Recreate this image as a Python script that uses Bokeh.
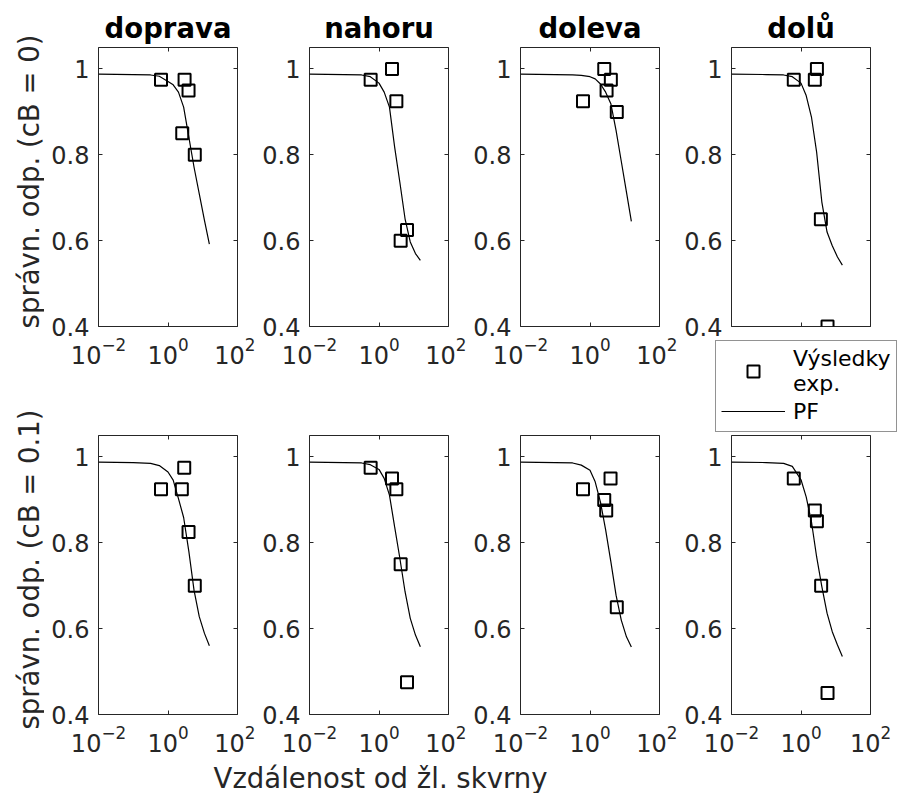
import math
from bokeh.plotting import figure
from bokeh.models import (Range1d, LogAxis, LinearAxis, FixedTicker, LogTickFormatter,
                          NumeralTickFormatter, Legend, LegendItem, Label)
from bokeh.layouts import column, row
from bokeh.embed import file_html
from bokeh.resources import INLINE

FONT = "DejaVu Sans"
AX = "#262626"

# ---------------- data ----------------
titles = ["doprava", "nahoru", "doleva", "dolů"]
row_labels = ["správn. odp. (cB = 0)", "správn. odp. (cB = 0.1)"]
x_label = "Vzdálenost od žl. skvrny"
legend_labels = ["Výsledky\nexp.", "PF"]
x_ticks = [0.01, 1, 100]
y_ticks = [0.4, 0.6, 0.8, 1.0]

# psychometric-function curves, shared x samples
pf_x = [0.01, 0.1, 0.316, 0.562, 1.0, 1.41, 2.0, 2.82, 3.98, 5.62, 7.94, 11.2, 15.5]

pf_doprava_0 = [0.988, 0.987, 0.986, 0.983, 0.971, 0.963, 0.946, 0.911, 0.841, 0.771, 0.709, 0.647, 0.592]
pf_nahoru_0 = [0.988, 0.987, 0.986, 0.982, 0.967, 0.946, 0.911, 0.818, 0.736, 0.651, 0.597, 0.570, 0.554]
pf_doleva_0 = [0.988, 0.987, 0.986, 0.985, 0.982, 0.977, 0.965, 0.946, 0.919, 0.857, 0.785, 0.713, 0.645]
pf_dolu_0 = [0.988, 0.987, 0.986, 0.982, 0.967, 0.938, 0.888, 0.806, 0.690, 0.620, 0.588, 0.562, 0.543]

pf_doprava_1 = [0.988, 0.987, 0.985, 0.980, 0.965, 0.946, 0.903, 0.859, 0.780, 0.689, 0.628, 0.589, 0.560]
pf_nahoru_1 = [0.988, 0.987, 0.986, 0.982, 0.971, 0.950, 0.911, 0.837, 0.764, 0.686, 0.624, 0.585, 0.558]
pf_doleva_1 = [0.988, 0.987, 0.986, 0.981, 0.969, 0.942, 0.895, 0.830, 0.756, 0.678, 0.620, 0.581, 0.557]
pf_dolu_1 = [0.988, 0.987, 0.985, 0.978, 0.947, 0.907, 0.849, 0.767, 0.698, 0.636, 0.593, 0.562, 0.535]

# experimental results
exp_doprava_0_x = [0.63, 3.0, 3.9, 2.57, 5.9]
exp_doprava_0_y = [0.975, 0.975, 0.95, 0.85, 0.80]
exp_nahoru_0_x = [0.575, 2.37, 3.16, 6.4, 4.2]
exp_nahoru_0_y = [0.975, 1.0, 0.925, 0.625, 0.60]
exp_doleva_0_x = [2.57, 3.98, 3.0, 0.63, 5.9]
exp_doleva_0_y = [1.0, 0.975, 0.95, 0.925, 0.90]
exp_dolu_0_x = [0.62, 2.87, 2.5, 3.73, 5.8]
exp_dolu_0_y = [0.975, 1.0, 0.975, 0.65, 0.40]

exp_doprava_1_x = [2.93, 0.63, 2.5, 3.9, 5.9]
exp_doprava_1_y = [0.975, 0.925, 0.925, 0.825, 0.70]
exp_nahoru_1_x = [0.575, 2.37, 3.16, 4.2, 6.4]
exp_nahoru_1_y = [0.975, 0.95, 0.925, 0.75, 0.475]
exp_doleva_1_x = [3.9, 0.63, 2.57, 2.93, 5.9]
exp_doleva_1_y = [0.95, 0.925, 0.90, 0.875, 0.65]
exp_dolu_1_x = [0.62, 2.5, 2.87, 3.8, 5.8]
exp_dolu_1_y = [0.95, 0.875, 0.85, 0.70, 0.45]

panels = [
    [(exp_doprava_0_x, exp_doprava_0_y, pf_doprava_0),
     (exp_nahoru_0_x, exp_nahoru_0_y, pf_nahoru_0),
     (exp_doleva_0_x, exp_doleva_0_y, pf_doleva_0),
     (exp_dolu_0_x, exp_dolu_0_y, pf_dolu_0)],
    [(exp_doprava_1_x, exp_doprava_1_y, pf_doprava_1),
     (exp_nahoru_1_x, exp_nahoru_1_y, pf_nahoru_1),
     (exp_doleva_1_x, exp_doleva_1_y, pf_doleva_1),
     (exp_dolu_1_x, exp_dolu_1_y, pf_dolu_1)],
]

# ---------------- layout constants ----------------
FW, FH = 139, 279
LEFT_B = 54
RIGHT_B = [18, 18, 18, 32]
TOP_B = [47, 2]
BOT_B = [107, 44]
LEG_H = 94             # legend strip under the last top panel
YLAB_W = 44
XLAB_H = 35
TICK_FS = "24px"


def style_axis(ax, hidden=False, standoff=9):
    ax.axis_line_color = None
    ax.major_tick_in = 4
    ax.major_tick_out = 0
    ax.minor_tick_in = 0
    ax.minor_tick_out = 0
    ax.major_tick_line_color = AX
    ax.major_tick_line_width = 1
    ax.major_label_text_font = FONT
    ax.major_label_text_color = AX
    ax.major_label_standoff = standoff
    if hidden:
        ax.major_label_text_font_size = "1px"
        ax.major_label_text_alpha = 0
    else:
        ax.major_label_text_font_size = TICK_FS


def make_panel(r, c):
    ex_x, ex_y, pf_y = panels[r][c]
    legend_col = (r == 0 and c == 3)
    kw = {"title": titles[c]} if r == 0 else {}
    bottom_b = BOT_B[r] - LEG_H if legend_col else BOT_B[r]
    p = figure(x_axis_type="log", x_range=Range1d(0.01, 100), y_range=Range1d(0.4, 1.05),
               frame_width=FW, frame_height=FH, toolbar_location=None,
               output_backend="svg", min_border_left=LEFT_B, min_border_right=RIGHT_B[c],
               min_border_top=TOP_B[r], min_border_bottom=bottom_b, **kw)
    p.frame_align = False
    if r == 0:
        p.title.align = "center"
        p.title.offset = 3
        p.title.text_font = FONT
        p.title.text_font_size = "27.5px"
        p.title.text_font_style = "bold"
        p.title.text_color = "black"
        p.title.standoff = 7
    p.xgrid.visible = False
    p.ygrid.visible = False
    p.outline_line_color = AX
    p.outline_line_width = 1
    p.background_fill_color = "white"
    p.border_fill_color = "white"

    p.xaxis.ticker = FixedTicker(ticks=x_ticks)
    p.xaxis.formatter = LogTickFormatter()
    p.yaxis.ticker = FixedTicker(ticks=y_ticks)
    p.yaxis.formatter = NumeralTickFormatter(format="0.[0]")
    for ax in p.yaxis:
        style_axis(ax)
    for ax in p.xaxis:
        # in the reference the legend hides the x tick labels of this panel
        style_axis(ax, hidden=legend_col, standoff=0 if legend_col else 10)
    top_ax = LogAxis(ticker=FixedTicker(ticks=x_ticks), formatter=LogTickFormatter())
    style_axis(top_ax, hidden=True, standoff=0)
    p.add_layout(top_ax, "above")
    right_ax = LinearAxis(ticker=FixedTicker(ticks=y_ticks))
    style_axis(right_ax, hidden=True, standoff=0)
    p.add_layout(right_ax, "right")

    p.line(pf_x, pf_y, line_color="black", line_width=1.2)
    p.scatter(ex_x, ex_y, marker="square", size=12, fill_color=None,
              line_color="black", line_width=2)
    return p


top_figs = [make_panel(0, c) for c in range(4)]
bot_figs = [make_panel(1, c) for c in range(4)]

# ---- legend strip (same glyph styles; its own ranges keep the data out of view) ----
leg_w = LEFT_B + FW + RIGHT_B[3]
legfig = figure(width=leg_w, height=LEG_H, x_range=Range1d(-20, -10), y_range=Range1d(0, 1),
                toolbar_location=None, output_backend="svg", x_axis_location=None,
                y_axis_location=None, min_border=0, outline_line_color=None)
legfig.frame_align = False
legfig.xgrid.visible = False
legfig.ygrid.visible = False
leg_sc = legfig.scatter(exp_dolu_0_x, exp_dolu_0_y, marker="square", size=12, fill_color=None,
                        line_color="black", line_width=2)
leg_ln = legfig.line(pf_x, pf_dolu_0, line_color="black", line_width=1.2)
legend = Legend(items=[LegendItem(label=legend_labels[0], renderers=[leg_sc]),
                       LegendItem(label=legend_labels[1], renderers=[leg_ln])],
                location=(38, 1))
legend.label_text_font = FONT
legend.label_text_font_size = "22px"
legend.label_text_line_height = 1.2
legend.label_text_color = "black"
legend.glyph_width = 64
legend.glyph_height = 30
legend.label_standoff = 8
legend.padding = 5
legend.spacing = 0
legend.margin = 0
legend.border_line_color = AX
legend.border_line_width = 1
legend.background_fill_color = "white"
legend.background_fill_alpha = 1
legfig.add_layout(legend)

rows_h = (TOP_B[0] + FH + BOT_B[0]) + (TOP_B[1] + FH + BOT_B[1])
ylab = figure(width=YLAB_W, height=rows_h, x_range=Range1d(0, 1), y_range=Range1d(0, 1),
              toolbar_location=None, output_backend="svg", x_axis_location=None,
              y_axis_location=None, min_border=0, outline_line_color=None)
ylab.frame_align = False
ylab.xgrid.visible = False
ylab.ygrid.visible = False
for txt, yc in zip(row_labels, [rows_h - 181, rows_h - 569]):
    ylab.add_layout(Label(x=28, y=yc, x_units="screen", y_units="screen", text=txt,
                          angle=math.pi / 2, text_align="center", text_baseline="middle",
                          text_font=FONT, text_font_size="27.5px", text_color=AX))

total_w = YLAB_W + sum(LEFT_B + FW + rb for rb in RIGHT_B)
xlab = figure(width=total_w, height=XLAB_H, x_range=Range1d(0, 1), y_range=Range1d(0, 1),
              toolbar_location=None, output_backend="svg", x_axis_location=None,
              y_axis_location=None, min_border=0, outline_line_color=None)
xlab.frame_align = False
xlab.xgrid.visible = False
xlab.ygrid.visible = False
xlab.add_layout(Label(x=380, y=16, x_units="screen", y_units="screen", text=x_label,
                      text_align="center", text_baseline="alphabetic",
                      text_font=FONT, text_font_size="27.5px", text_color=AX))

cols = [column(top_figs[c], bot_figs[c]) for c in range(3)]
cols.append(column(top_figs[3], legfig, bot_figs[3]))
layout = column(row(ylab, *cols), xlab)

open("out.html", "w").write(file_html(layout, INLINE))
